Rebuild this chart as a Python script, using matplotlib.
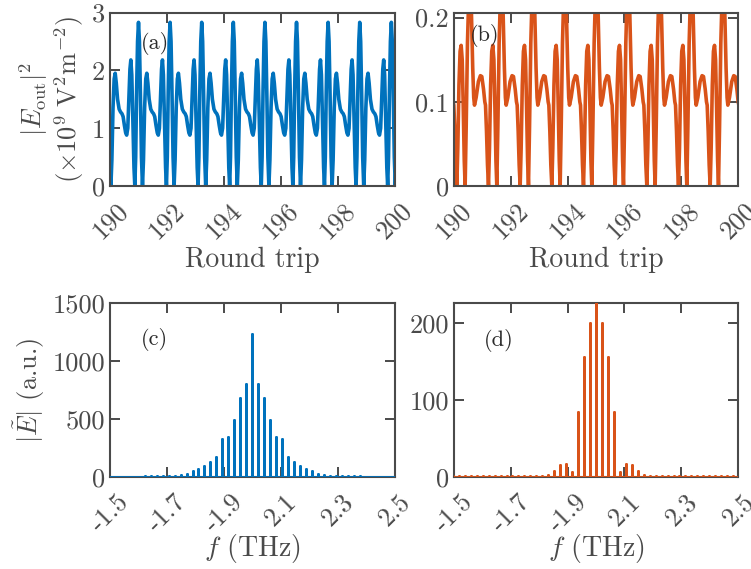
import numpy as np
import matplotlib.pyplot as plt

# %% data
# one period of |E_out|^2, offsets in round trips from a zero of the trace
a_period = 1.111
a_start = 190.03
a_off = [0.000, 0.035, 0.075, 0.115, 0.152, 0.190, 0.235, 0.290, 0.340, 0.390,
         0.430, 0.475, 0.520, 0.555, 0.595, 0.635, 0.670, 0.702, 0.735, 0.775,
         0.812, 0.842, 0.872, 0.905, 0.938, 0.971, 1.004, 1.038, 1.075]
a_val = [0.00, 0.45, 1.35, 1.85, 1.95, 1.78, 1.50, 1.33, 1.28, 1.25,
         1.20, 1.05, 0.92, 0.88, 1.00, 1.55, 2.02, 2.18, 1.92, 1.10,
         0.32, 0.00, 0.50, 1.65, 2.50, 2.83, 2.50, 1.60, 0.50]

b_period = 1.115
b_start = 190.10
b_off = [0.000, 0.035, 0.075, 0.115, 0.153, 0.190, 0.225, 0.262, 0.293, 0.330,
         0.375, 0.420, 0.470, 0.515, 0.560, 0.595, 0.622, 0.680, 0.760, 0.830,
         0.880, 0.940, 0.985, 1.010, 1.045, 1.080]
b_val = [0.000, 0.045, 0.120, 0.160, 0.167, 0.150, 0.095, 0.030, 0.000, 0.070,
         0.170, 0.225, 0.240, 0.205, 0.140, 0.105, 0.096, 0.105, 0.124, 0.131,
         0.130, 0.115, 0.100, 0.096, 0.065, 0.025]

# comb lines of the spectra, amplitude by line index |n| from the centre
f_centre = 2.0
f_step = 0.021
c_amp = [1235, 800, 685, 490, 346, 329, 175, 130, 95, 72, 52, 30, 15,
         10, 8, 6, 6, 5, 5, 4, 4, 4, 3, 3, 3]
d_amp = [228, 200, 156, 85, 6.5, 17, 15, 8, 3, 1.5, 1.5, 1, 1,
         1, 1, 1, 1, 1, 1, 1, 1, 1, 1, 1, 1]

rt_ticks = [190, 192, 194, 196, 198, 200]
f_ticks = [1.5, 1.7, 1.9, 2.1, 2.3, 2.5]
f_ticklabels = ['-1.5', '-1.7', '-1.9', '2.1', '2.3', '2.5']

blue = '#0072BD'
orange = '#D95319'
grey = '#4a4a4a'

plt.rcParams['font.family'] = 'serif'
plt.rcParams['font.serif'] = ['cmr10']
plt.rcParams['mathtext.fontset'] = 'cm'
plt.rcParams['axes.formatter.use_mathtext'] = True
plt.rcParams['text.color'] = grey
plt.rcParams['axes.labelcolor'] = grey
plt.rcParams['xtick.color'] = grey
plt.rcParams['ytick.color'] = grey
plt.rcParams['axes.edgecolor'] = grey


def tile(start, period, off, val, k0, k1):
    t = []
    y = []
    for k in range(k0, k1):
        t.extend(start + k * period + np.array(off))
        y.extend(val)
    return np.array(t), np.array(y)


def comb(amp):
    n = np.arange(-(len(amp) - 1), len(amp))
    a = np.array(amp)[np.abs(n)]
    f = f_centre + n * f_step
    xs = np.repeat(f, 3)
    ys = np.column_stack([np.zeros_like(a), a, np.zeros_like(a)]).ravel()
    return xs, ys


def style(ax):
    ax.tick_params(direction='in', top=True, right=True, length=7, width=1.4,
                   labelsize=19)
    ax.tick_params(axis='x', pad=9)
    for s in ax.spines.values():
        s.set_linewidth(1.5)
    for lab in ax.get_xticklabels():
        lab.set_rotation(45)
        lab.set_ha('center')
        lab.set_va('top')


fig = plt.figure(figsize=(7.51, 5.69), dpi=100)
axa = fig.add_axes([0.1465, 0.6731, 0.3788, 0.3049])
axb = fig.add_axes([0.6045, 0.6731, 0.3782, 0.3049])
axc = fig.add_axes([0.1465, 0.1617, 0.3788, 0.3058])
axd = fig.add_axes([0.6045, 0.1617, 0.3782, 0.3058])

# %% (a)
t, y = tile(a_start, a_period, a_off, a_val, -1, 10)
axa.plot(t, y, color=blue, lw=2.6)
axa.set_xlim(190, 200)
axa.set_ylim(0, 3)
axa.set_yticks([0, 1, 2, 3], labels=['0', '1', '2', '3'])
axa.set_xticks(rt_ticks, labels=[str(v) for v in rt_ticks])
axa.set_xlabel('Round trip', fontsize=20, labelpad=2)
axa.set_ylabel('$|E_{\\rm out}|^2$\n$(\\times 10^9\\ \\mathrm{V}^2\\mathrm{m}^{-2})$',
               fontsize=19, linespacing=1.1)
axa.text(0.108, 0.824, '(a)', transform=axa.transAxes, fontsize=16,
         va='center', color='#2a2a2a')

# %% (b)
t, y = tile(b_start, b_period, b_off, b_val, -1, 10)
axb.plot(t, y, color=orange, lw=2.6)
axb.set_xlim(190, 200)
axb.set_ylim(0, 0.206)
axb.set_yticks([0, 0.1, 0.2], labels=['0', '0.1', '0.2'])
axb.set_xticks(rt_ticks, labels=[str(v) for v in rt_ticks])
axb.set_xlabel('Round trip', fontsize=20, labelpad=2)
axb.text(0.056, 0.87, '(b)', transform=axb.transAxes, fontsize=16,
         va='center', color='#2a2a2a')

# %% (c)
xs, ys = comb(c_amp)
axc.plot(xs, ys, color=blue, lw=2.0, zorder=3)
axc.set_xlim(1.5, 2.5)
axc.set_ylim(0, 1500)
axc.set_yticks([0, 500, 1000, 1500], labels=['0', '500', '1000', '1500'])
axc.set_xticks(f_ticks, labels=f_ticklabels)
axc.set_xlabel('$f$ (THz)', fontsize=20, labelpad=-3)
axc.set_ylabel('$|\\tilde{E}|$ (a.u.)', fontsize=19)
axc.text(0.108, 0.793, '(c)', transform=axc.transAxes, fontsize=16,
         va='center', color='#2a2a2a')

# %% (d)
xs, ys = comb(d_amp)
axd.plot(xs, ys, color=orange, lw=2.0, zorder=3)
axd.set_xlim(1.5, 2.5)
axd.set_ylim(0, 226)
axd.set_yticks([0, 100, 200], labels=['0', '100', '200'])
axd.set_xticks(f_ticks, labels=f_ticklabels)
axd.set_xlabel('$f$ (THz)', fontsize=20, labelpad=-3)
axd.text(0.106, 0.784, '(d)', transform=axd.transAxes, fontsize=16,
         va='center', color='#2a2a2a')

for ax in (axa, axb, axc, axd):
    style(ax)

fig.savefig('out.png', dpi=100)
